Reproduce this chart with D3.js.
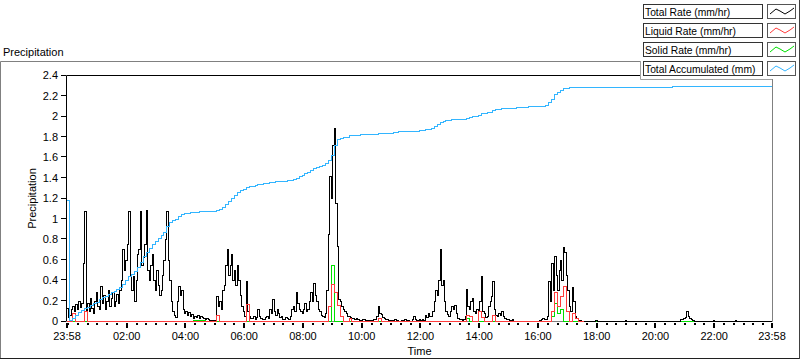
<!DOCTYPE html>
<html>
<head>
<meta charset="utf-8">
<script src="https://cdn.jsdelivr.net/npm/d3@7"></script>
<style>
  body { margin: 0; background: #fff; }
  svg { display: block; font-family: "Liberation Sans", Arial, sans-serif; font-size: 11px; }
</style>
</head>
<body>
<svg id="chart" width="800" height="361"></svg>
<script>
// first sample at 23:58 of the day before (minute -2)
var startMin = -2;
var rateStepMin = 3;   // total rate, one value every 3 minutes
var stepMin = 6;       // the other series, one value every 6 minutes

var totalRate = [
  0.13,0.04,0.06,0.12,0.15,0.1,0.17,0.12,0.2,0.14,
  0.18,0.57,1.07,0.1,0.18,0.1,0.22,0.13,0.08,0.2,
  0.28,0.15,0.12,0.34,0.18,0.25,0.12,0.2,0.3,0.15,
  0.22,0.28,0.15,0.2,0.26,0.18,0.3,0.4,0.7,0.5,
  0.6,0.75,1.07,0.45,0.3,0.44,0.2,0.4,0.65,0.7,
  1.07,0.55,0.62,0.75,1.08,0.5,0.4,0.55,0.65,0.4,
  0.3,0.5,0.35,0.25,0.3,0.45,0.6,0.8,1.07,0.6,
  0.4,0.2,0.1,0.06,0.04,0.2,0.34,0.25,0.3,0.12,
  0.08,0.1,0.06,0.09,0.05,0.07,0.03,0.05,0.04,0.06,
  0.03,0.05,0.04,0.03,0.02,0.03,0.02,0.01,0.01,0.01,
  0.01,0.01,0.24,0.15,0.2,0.12,0.3,0.35,0.55,0.7,
  0.45,0.55,0.65,0.4,0.5,0.35,0.55,0.4,0.25,0.15,
  0.1,0.05,0.39,0.1,0.05,0.03,0.03,0.05,0.02,0.04,
  0.12,0.05,0.03,0.02,0.02,0.04,0.05,0.03,0.12,0.08,
  0.21,0.1,0.06,0.12,0.08,0.04,0.05,0.02,0.02,0.04,
  0.03,0.02,0.05,0.12,0.15,0.1,0.28,0.18,0.12,0.1,
  0.08,0.12,0.18,0.1,0.12,0.2,0.28,0.2,0.37,0.25,
  0.2,0.12,0.1,0.06,0.05,0.04,0.08,0.3,0.85,1.41,
  1.2,1.72,1.88,1.15,0.73,0.21,0.2,0.15,0.12,0.1,
  0.08,0.05,0.05,0.04,0.03,0.03,0.02,0.03,0.02,0.01,
  0.01,0.02,0.02,0.01,0.01,0.01,0.01,0.01,0.01,0.02,
  0.02,0.05,0.15,0.08,0.07,0.04,0.03,0.02,0.02,0.01,
  0.01,0.01,0.01,0.02,0.01,0.01,0,0,0.01,0.01,
  0.02,0.01,0.01,0,0,0.02,0.05,0.02,0.01,0.01,
  0.02,0.01,0.02,0.01,0.06,0.04,0.08,0.05,0.05,0.1,
  0.2,0.3,0.25,0.4,0.7,0.35,0.4,0.2,0.1,0.07,
  0.05,0.1,0.15,0.12,0.16,0.08,0.03,0.02,0.02,0.01,
  0.02,0.05,0.31,0.15,0.12,0.2,0.22,0.1,0.08,0.12,
  0.1,0.2,0.44,0.1,0.08,0.04,0.05,0.15,0.2,0.24,
  0.39,0.12,0.06,0.05,0.08,0.06,0.1,0.05,0.03,0.02,
  0.02,0.01,0.01,0.02,0,0,0,0,0,0,
  0,0,0,0,0,0,0,0,0,0,
  0,0,0.01,0.02,0.03,0.02,0.02,0.05,0.39,0.2,
  0.57,0.3,0.63,0.45,0.3,0.5,0.6,0.4,0.72,0.67,
  0.45,0.3,0.15,0.1,0.33,0.2,0.05,0.03,0.01,0.01,
  0,0,0,0,0,0,0,0,0,0,
  0.01,0,0,0,0,0,0,0,0,0,
  0,0,0,0,0,0,0,0,0,0,
  0.01,0,0,0,0,0,0,0,0,0,
  0,0,0,0,0,0,0,0,0,0,
  0,0,0,0,0,0,0,0,0,0,
  0,0,0,0,0,0,0,0,0.02,0.02,
  0.03,0.04,0.1,0.05,0.03,0.02,0.01,0,0,0,
  0,0,0,0,0,0,0,0,0,0,
  0.01,0,0,0,0,0,0,0,0,0,
  0,0,0,0,0,0.01,0,0,0,0,
  0,0,0,0,0,0,0,0,0,0,
  0,0,0,0,0,0,0,0,0,0,
  0
];

// liquid sensor stops reporting a little before 18:00
var liquidRate = [
  0,0,0.08,0,0,0,0.1,0,0,0,
  0,0,0,0,0,0,0,0,0,0,
  0,0,0,0,0,0,0,0,0,0,
  0,0,0,0,0,0,0,0,0,0,
  0,0,0,0,0,0,0,0,0,0,
  0,0.06,0,0,0,0,0,0,0,0,
  0,0.17,0,0,0,0,0,0,0,0,
  0,0,0,0,0,0,0,0,0,0,
  0,0,0,0,0,0,0,0,0,0.15,
  0.36,0.28,0.16,0.05,0,0,0.03,0,0,0,
  0,0,0,0,0,0,0.03,0,0,0,
  0,0,0,0,0,0,0,0,0,0,
  0,0,0,0,0,0,0,0,0,0,
  0,0,0,0,0,0,0.06,0.05,0,0,
  0.1,0.04,0,0,0,0.06,0,0,0,0,
  0,0,0,0,0,0,0,0,0,0,
  0,0,0,0,0,0.1,0.28,0.15,0.24,0.34,
  0.1,0,0.08,0.03,0,0,0
];

var solidRate = [
  0,0,0,0,0,0,0,0,0,0,
  0,0,0,0,0,0,0,0,0,0,
  0,0,0,0,0,0,0,0,0,0,
  0,0,0,0,0,0,0,0,0,0,
  0,0,0,0.01,0.01,0.01,0.01,0,0,0,
  0,0,0,0,0,0,0,0,0,0,
  0,0,0,0,0,0,0,0,0,0,
  0,0,0,0,0,0,0,0,0,0,
  0,0,0,0,0,0,0,0,0,0,
  0.55,0,0,0,0,0,0,0,0,0,
  0,0,0,0,0,0,0,0,0,0,
  0,0,0,0,0,0,0,0,0,0,
  0,0,0,0,0,0,0,0,0,0,
  0,0,0,0,0,0,0.03,0,0,0,
  0,0,0,0,0,0,0,0,0,0,
  0,0,0,0,0,0,0,0,0,0,
  0,0,0,0,0,0.05,0.18,0.08,0.12,0,
  0,0,0,0,0,0,0,0,0,0,
  0,0,0,0,0,0,0,0,0,0,
  0,0,0,0,0,0,0,0,0,0,
  0,0,0,0,0,0,0,0,0,0,
  0,0,0,0,0,0,0,0,0,0,
  0,0,0,0,0,0,0,0,0,0,
  0,0,0,0,0,0,0,0,0,0,
  0
];

var totalAccum = [
  1.18,0.01,0.03,0.06,0.09,0.11,0.13,0.14,0.16,0.18,
  0.19,0.21,0.23,0.24,0.26,0.28,0.29,0.31,0.33,0.36,
  0.40,0.44,0.46,0.49,0.53,0.58,0.63,0.67,0.71,0.75,
  0.78,0.81,0.84,0.87,0.93,0.97,0.99,1.00,1.02,1.04,
  1.05,1.05,1.06,1.06,1.06,1.07,1.07,1.07,1.07,1.07,
  1.07,1.08,1.09,1.11,1.14,1.17,1.20,1.23,1.26,1.28,
  1.29,1.31,1.32,1.32,1.33,1.34,1.34,1.35,1.35,1.36,
  1.36,1.37,1.37,1.37,1.37,1.38,1.38,1.39,1.40,1.41,
  1.42,1.44,1.45,1.47,1.49,1.50,1.51,1.52,1.54,1.57,
  1.62,1.72,1.78,1.79,1.80,1.80,1.81,1.81,1.81,1.81,
  1.82,1.82,1.82,1.82,1.82,1.82,1.83,1.83,1.83,1.83,
  1.83,1.84,1.84,1.85,1.85,1.85,1.85,1.85,1.85,1.85,
  1.86,1.86,1.87,1.87,1.88,1.90,1.92,1.94,1.95,1.96,
  1.96,1.97,1.97,1.97,1.97,1.97,1.98,1.99,2.00,2.00,
  2.01,2.03,2.03,2.04,2.04,2.06,2.07,2.07,2.08,2.08,
  2.08,2.08,2.08,2.09,2.09,2.09,2.09,2.10,2.10,2.10,
  2.10,2.10,2.10,2.11,2.14,2.17,2.21,2.23,2.25,2.27,
  2.27,2.28,2.28,2.28,2.28,2.28,2.28,2.28,2.28,2.28,
  2.28,2.28,2.28,2.28,2.28,2.28,2.28,2.28,2.28,2.28,
  2.28,2.28,2.28,2.28,2.28,2.28,2.28,2.28,2.28,2.28,
  2.28,2.28,2.28,2.28,2.28,2.28,2.29,2.29,2.29,2.29,
  2.29,2.29,2.29,2.29,2.29,2.29,2.29,2.29,2.29,2.29,
  2.29,2.29,2.29,2.29,2.29,2.29,2.29,2.29,2.29,2.29,
  2.29,2.29,2.29,2.29,2.29,2.29,2.29,2.29,2.29,2.29,
  2.29
];

var yTicks = [0, 0.2, 0.4, 0.6, 0.8, 1, 1.2, 1.4, 1.6, 1.8, 2, 2.2, 2.4];
var xTickMins = [-2, 120, 240, 360, 480, 600, 720, 840, 960, 1080, 1200, 1320, 1438];
var xTickLabels = ["23:58", "02:00", "04:00", "06:00", "08:00", "10:00", "12:00",
                   "14:00", "16:00", "18:00", "20:00", "22:00", "23:58"];
var seriesNames = ["Total Rate (mm/hr)", "Liquid Rate (mm/hr)", "Solid Rate (mm/hr)", "Total Accumulated (mm)"];
var seriesColors = ["#000000", "#ff3c3c", "#00e000", "#33b5ff"];

var svg = d3.select("#chart");

// plot area edges (half pixels so 1px lines stay sharp)
var pL = 66.5, pR = 772.5, pT = 75.5, pB = 321.5;

var x = d3.scaleLinear().domain([-2, 1438]).range([67, 772]);
var y = d3.scaleLinear().domain([0, 2.4]).range([pB, pT]);

// outer frame of the chart
svg.append("line").attr("x1", 0.5).attr("y1", 61.5).attr("x2", 799.5).attr("y2", 61.5).attr("stroke", "#808080");
svg.append("line").attr("x1", 0.5).attr("y1", 61.5).attr("x2", 0.5).attr("y2", 358.5).attr("stroke", "#808080");
svg.append("line").attr("x1", 0).attr("y1", 358.5).attr("x2", 800).attr("y2", 358.5).attr("stroke", "#202020");
svg.append("line").attr("x1", 799.5).attr("y1", 0).attr("x2", 799.5).attr("y2", 359).attr("stroke", "#404040");

svg.append("text").attr("x", 3).attr("y", 56).text("Precipitation");

// plot border
svg.append("path").attr("d", `M${pL},${pB}V${pT}H${pR}`).attr("fill", "none").attr("stroke", "#000");
svg.append("path").attr("d", `M${pR},${pT}V${pB}H${pL}`).attr("fill", "none").attr("stroke", "#808080");

// y axis
var yAxis = svg.append("g").attr("shape-rendering", "crispEdges");
yAxis.selectAll("line").data(yTicks).join("line")
  .attr("x1", 61).attr("x2", 66).attr("y1", d => Math.round(y(d)) - 0.5).attr("y2", d => Math.round(y(d)) - 0.5)
  .attr("stroke", "#000");
yAxis.selectAll("text").data(yTicks).join("text")
  .attr("x", 58).attr("y", d => y(d)).attr("dy", "0.35em").attr("text-anchor", "end")
  .text(d => String(d));

svg.append("text").attr("transform", "translate(36,198.5) rotate(-90)").attr("text-anchor", "middle")
  .text("Precipitation");

// x axis, minor ticks every 20 minutes
var minorMins = d3.range(0, 1440, 20).filter(m => xTickMins.indexOf(m) < 0);
var xAxis = svg.append("g").attr("shape-rendering", "crispEdges");
xAxis.selectAll("rect.minor").data(minorMins).join("rect").attr("class", "minor")
  .attr("x", d => Math.round(x(d)) - 1).attr("y", 323).attr("width", 2).attr("height", 2).attr("fill", "#000");
xAxis.selectAll("rect.major").data(xTickMins).join("rect").attr("class", "major")
  .attr("x", d => Math.round(x(d)) - 1).attr("y", 323).attr("width", 2).attr("height", 5).attr("fill", "#000");
xAxis.selectAll("text").data(xTickMins).join("text")
  .attr("x", d => x(d)).attr("y", 340).attr("text-anchor", "middle")
  .text((d, i) => xTickLabels[i]);

svg.append("text").attr("x", (pL + pR) / 2).attr("y", 355).attr("text-anchor", "middle").text("Time");

// data lines, drawn as stairs like the instrument display
function stairs(step) {
  return d3.line()
    .curve(d3.curveStepAfter)
    .x((d, i) => x(startMin + i * step))
    .y(d => y(d));
}

var plot = svg.append("g");
[[solidRate, 2, stepMin], [totalRate, 0, rateStepMin], [liquidRate, 1, stepMin], [totalAccum, 3, stepMin]]
  .forEach(function (s) {
    plot.append("path").datum(s[0]).attr("d", stairs(s[2]))
      .attr("fill", "none").attr("stroke", seriesColors[s[1]]).attr("stroke-width", 1)
      .attr("shape-rendering", "crispEdges");
  });

// legend panel
var legend = svg.append("g");
legend.append("rect").attr("x", 640).attr("y", 0).attr("width", 159).attr("height", 79).attr("fill", "#fff");
legend.append("path").attr("d", "M640.5,61V79.5H772").attr("fill", "none").attr("stroke", "#a0a0a0");

var rows = legend.selectAll("g.row").data(seriesNames).join("g").attr("class", "row")
  .attr("transform", (d, i) => `translate(0,${4 + i * 19})`);
rows.append("rect").attr("x", 643.5).attr("y", 0.5).attr("width", 119).attr("height", 14)
  .attr("fill", "#fff").attr("stroke", "#333");
rows.append("text").attr("x", 645).attr("y", 12).style("font-size", "10.3px").text(d => d);
rows.append("rect").attr("x", 767.5).attr("y", 0.5).attr("width", 28).attr("height", 14)
  .attr("fill", "#fff").attr("stroke", "#555");
rows.append("path")
  .attr("d", "M770,10L776,5L780,7L785,10L790,7L794,4")
  .attr("fill", "none").attr("stroke", (d, i) => seriesColors[i]);
</script>
</body>
</html>
